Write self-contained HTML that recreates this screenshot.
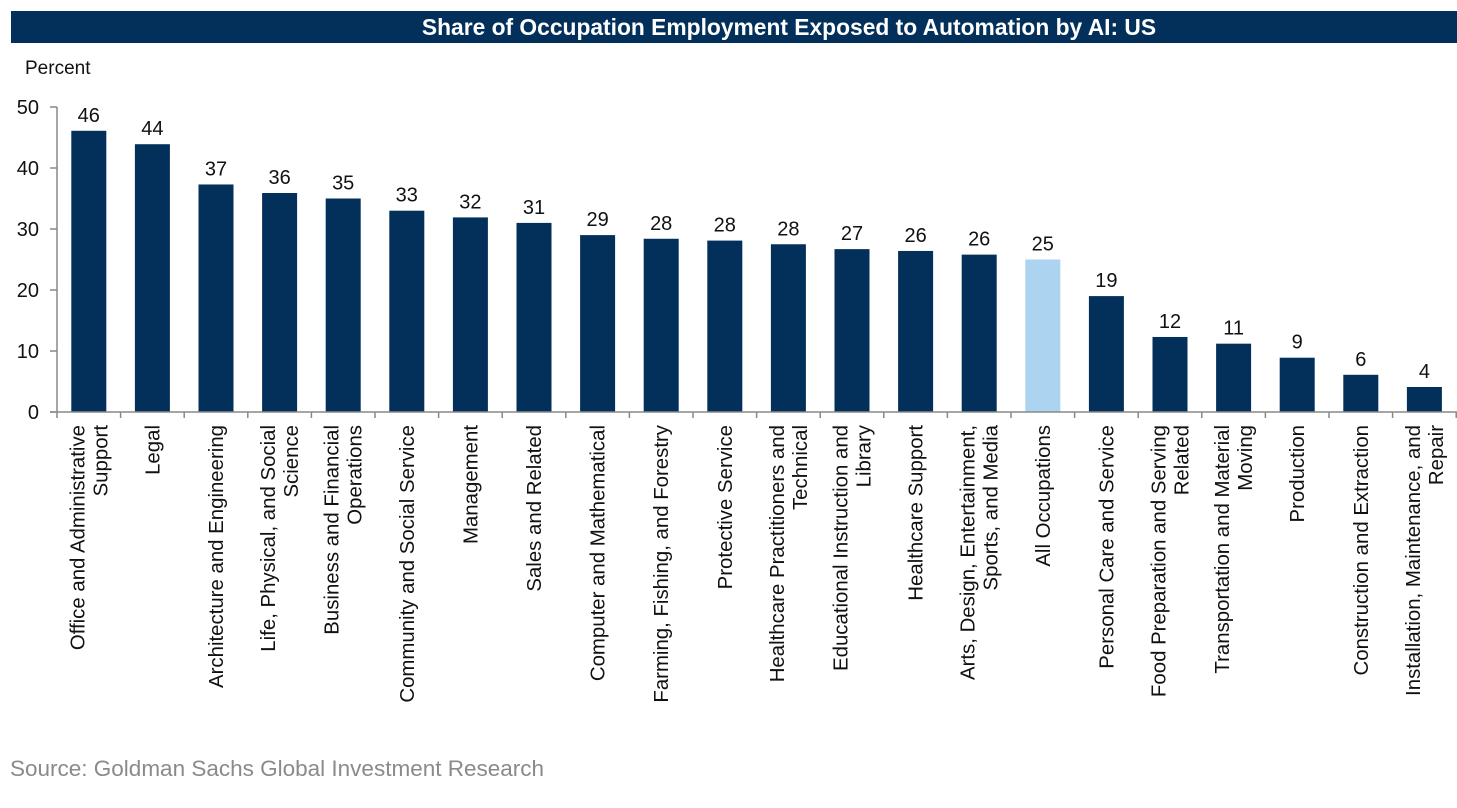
<!DOCTYPE html>
<html><head><meta charset="utf-8"><style>
body{margin:0;background:#fff;width:1457px;height:803px;overflow:hidden;font-family:"Liberation Sans",sans-serif}
</style></head><body>
<svg width="1457" height="803">
<rect x="11" y="11" width="1446" height="32" fill="#03305a"/>
<text x="789" y="35" fill="#fff" font-size="22.8" font-weight="bold" text-anchor="middle">Share of Occupation Employment Exposed to Automation by AI: US</text>
<text x="25" y="74" font-size="19" fill="#111">Percent</text>
<g id="plot"></g>
<text x="10" y="776" font-size="22.5" fill="#8a8a8a">Source: Goldman Sachs Global Investment Research</text>
</svg>
<script>
const categories=[["Office and Administrative","Support"],["Legal"],["Architecture and Engineering"],["Life, Physical, and Social","Science"],["Business and Financial","Operations"],["Community and Social Service"],["Management"],["Sales and Related"],["Computer and Mathematical"],["Farming, Fishing, and Forestry"],["Protective Service"],["Healthcare Practitioners and","Technical"],["Educational Instruction and","Library"],["Healthcare Support"],["Arts, Design, Entertainment,","Sports, and Media"],["All Occupations"],["Personal Care and Service"],["Food Preparation and Serving","Related"],["Transportation and Material","Moving"],["Production"],["Construction and Extraction"],["Installation, Maintenance, and","Repair"]];
const values=[46.1,43.9,37.3,35.9,35,33,31.9,31,29,28.4,28.1,27.5,26.7,26.4,25.8,25,19,12.3,11.2,8.9,6.1,4.1];
const yTicks=[0,10,20,30,40,50];
const NS="http://www.w3.org/2000/svg";
const g=document.getElementById('plot');
const x0=57,band=63.6,y0=412,yTop=107,vmax=50;
const y=v=>y0-(v/vmax)*(y0-yTop);
const xc=i=>x0+band*(i+0.5);
function mk(t,a){const e=document.createElementNS(NS,t);for(const k in a)e.setAttribute(k,a[k]);g.appendChild(e);return e;}
const yax=mk('line',{x1:x0,y1:yTop,x2:x0,y2:y0,stroke:'#888','stroke-width':1.5});


yTicks.forEach(t=>{
 const tk=mk('line',{x1:x0-7,x2:x0,y1:y(t),y2:y(t),stroke:'#888','stroke-width':1.5});
 
 
 const tl=mk('text',{x:x0-18,y:y(t)+7,'font-size':20,'text-anchor':'end',fill:'#111'});
 tl.textContent=t;
 
 
});
values.forEach((v,i)=>{
 const b=mk('rect',{x:xc(i)-17.5,y:y(v),width:35,height:y0-y(v),fill:i===15?'#acd3ef':'#03305a'});
 
 
 const l=mk('text',{x:xc(i),y:y(v)-9,'font-size':20,'text-anchor':'middle',fill:'#111'});
 l.textContent=Math.round(v);
 
 
 const lines=categories[i];
 const t=mk('text',{transform:`translate(${xc(i)},425) rotate(-90)`,'font-size':20.4,'text-anchor':'end',fill:'#111'});
 
 
 lines.forEach((s,j)=>{const ts=document.createElementNS(NS,'tspan');ts.setAttribute('x',0);ts.setAttribute('y',7+(j-(lines.length-1)/2)*23);ts.textContent=s;t.appendChild(ts);});
});
for(let i=0;i<=values.length;i++){
 const tk=mk('line',{x1:x0+band*i,x2:x0+band*i,y1:y0,y2:y0+6,stroke:'#888','stroke-width':1.5});
 
 
}
const xa=mk('line',{x1:x0-7,y1:y0,x2:1457,y2:y0,stroke:'#888','stroke-width':1.5});


</script>
</body></html>
